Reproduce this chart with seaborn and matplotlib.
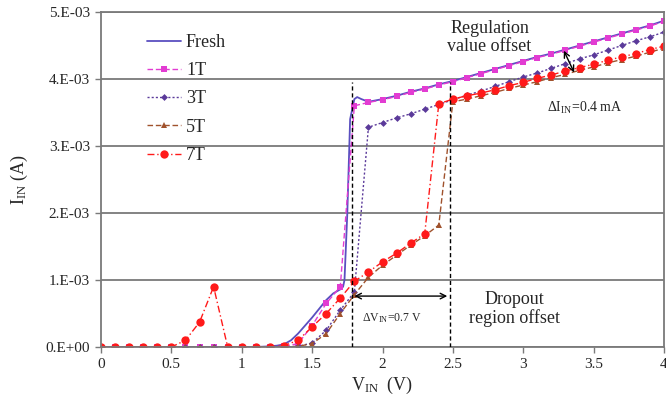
import numpy as np
import pandas as pd
import matplotlib
matplotlib.use("Agg")
import matplotlib.pyplot as plt
import seaborn as sns

# ---------------- data (currents in mA, converted to A when plotted) ----------------
v_fresh = [0.0, 0.1, 0.2, 0.3, 0.4, 0.5, 0.6, 0.7, 0.8, 0.9, 1.0, 1.1, 1.2, 1.25, 1.3, 1.35,
           1.4, 1.5, 1.6, 1.65, 1.7, 1.72, 1.73, 1.75, 1.77, 1.8, 1.82, 1.85, 1.9,
           2.0, 2.1, 2.2, 2.3, 2.4, 2.5, 2.6, 2.7, 2.8, 2.9, 3.0, 3.1, 3.2, 3.3, 3.4,
           3.5, 3.6, 3.7, 3.8, 3.9, 4.0]
i_fresh = [0, 0, 0, 0, 0, 0, 0, 0, 0, 0, 0, 0, 0.01, 0.02, 0.04, 0.1,
           0.2, 0.44, 0.7, 0.8, 0.86, 0.9, 1.0, 2.0, 3.4, 3.7, 3.73, 3.7, 3.66,
           3.70, 3.75, 3.81, 3.86, 3.92, 3.97, 4.03, 4.09, 4.15, 4.21, 4.27, 4.33, 4.38, 4.44, 4.50,
           4.56, 4.62, 4.68, 4.74, 4.80, 4.87]

v_step = [0.0, 0.1, 0.2, 0.3, 0.4, 0.5, 0.6, 0.7, 0.8, 0.9, 1.0, 1.1, 1.2, 1.3, 1.4,
          1.5, 1.6, 1.7, 1.8, 1.9, 2.0, 2.1, 2.2, 2.3, 2.4, 2.5, 2.6, 2.7, 2.8, 2.9,
          3.0, 3.1, 3.2, 3.3, 3.4, 3.5, 3.6, 3.7, 3.8, 3.9, 4.0]
i_1t = [0, 0, 0, 0, 0, 0, 0, 0, 0, 0, 0, 0, 0, 0.01, 0.05,
        0.32, 0.65, 0.9, 3.6, 3.65, 3.69, 3.74, 3.80, 3.85, 3.91, 3.96, 4.02, 4.08, 4.14, 4.20,
        4.26, 4.32, 4.37, 4.43, 4.49, 4.55, 4.61, 4.67, 4.73, 4.79, 4.86]
i_3t = [0, 0, 0, 0, 0, 0, 0, 0, 0, 0, 0, 0, 0, 0, 0.01,
        0.06, 0.25, 0.55, 0.82, 3.28, 3.35, 3.42, 3.48, 3.55, 3.62, 3.69, 3.76, 3.82, 3.89, 3.96,
        4.03, 4.09, 4.16, 4.23, 4.30, 4.36, 4.43, 4.50, 4.57, 4.63, 4.70]
i_5t = [0, 0, 0, 0, 0, 0, 0, 0, 0, 0, 0, 0, 0, 0, 0.01,
        0.05, 0.2, 0.5, 0.78, 1.04, 1.22, 1.37, 1.52, 1.66, 1.82, 3.66, 3.70, 3.75, 3.80, 3.86,
        3.91, 3.96, 4.02, 4.07, 4.13, 4.18, 4.24, 4.29, 4.34, 4.40, 4.46]
i_7t = [0, 0, 0, 0, 0, 0, 0.1, 0.37, 0.9, 0, 0, 0, 0, 0.02, 0.1,
        0.3, 0.5, 0.73, 0.98, 1.12, 1.27, 1.4, 1.55, 1.69, 3.63, 3.70, 3.75, 3.79, 3.84, 3.90,
        3.95, 4.01, 4.06, 4.12, 4.17, 4.22, 4.28, 4.33, 4.38, 4.44, 4.49]

series_names = ["Fresh", "1T", "3T", "5T", "7T"]
y_ticks = [0, 1e-3, 2e-3, 3e-3, 4e-3, 5e-3]
y_tick_labels = ["0.E+00", "1.E-03", "2.E-03", "3.E-03", "4.E-03", "5.E-03"]
x_ticks = [0, 0.5, 1, 1.5, 2, 2.5, 3, 3.5, 4]
x_tick_labels = ["0", "0.5", "1", "1.5", "2", "2.5", "3", "3.5", "4"]
dropout_lines = [1.78, 2.48]

# ---------------- style ----------------
sns.set_style("white")
plt.rcParams["font.family"] = ["Liberation Serif", "DejaVu Serif"]
plt.rcParams["mathtext.fontset"] = "custom"
plt.rcParams["mathtext.rm"] = "Liberation Serif"
plt.rcParams["mathtext.it"] = "Liberation Serif:italic"

fig = plt.figure(figsize=(6.66, 4.01), dpi=100)
ax = fig.add_axes([101 / 666, 1 - 347 / 401, 563 / 666, 335 / 401])

styles = {
    "Fresh": dict(color="#5A4FC0", linestyle="-", marker=None, lw=1.3),
    "1T": dict(color="#E23CD2", linestyle=(0, (4, 2)), marker="s", ms=4, lw=1.0),
    "3T": dict(color="#5B3A9A", linestyle=(0, (1.5, 1.5)), marker="D", ms=3.5, lw=1.0),
    "5T": dict(color="#A0522D", linestyle=(0, (4, 2)), marker="^", ms=5, lw=1.0),
    "7T": dict(color="#FF1A1A", linestyle=(0, (5, 2, 1, 2)), marker="o", ms=6, lw=1.0),
}
data = {
    "Fresh": (v_fresh, i_fresh),
    "1T": (v_step, i_1t),
    "3T": (v_step, i_3t),
    "5T": (v_step, i_5t),
    "7T": (v_step, i_7t),
}

for name in series_names:
    vx, iy = data[name]
    df = pd.DataFrame({"V": vx, "I": np.array(iy) * 1e-3})
    st = styles[name]
    kw = dict(color=st["color"], linestyle=st["linestyle"], linewidth=st["lw"], label=name)
    if st["marker"]:
        kw.update(marker=st["marker"], markersize=st["ms"], markeredgewidth=0,
                  markerfacecolor=st["color"])
    sns.lineplot(data=df, x="V", y="I", ax=ax, sort=False, estimator=None, **kw)

# grid & frame
grid_col = "#7A7A7A"
for yt in y_ticks:
    ax.axhline(yt, color=grid_col, lw=1.3, zorder=0)
for s in ax.spines.values():
    s.set_color(grid_col)
    s.set_linewidth(1.3)

ax.set_xlim(0, 4)
ax.set_ylim(0, 5e-3)
ax.set_xticks(x_ticks)
ax.set_xticklabels(x_tick_labels)
ax.set_yticks(y_ticks)
ax.set_yticklabels(y_tick_labels)
ax.tick_params(axis="both", direction="out", length=4, width=1, color=grid_col,
               labelsize=11, pad=4, left=True, bottom=True)

ax.set_xlabel(r"V$_{\mathrm{IN}}$  (V)", fontsize=13, labelpad=3)
ax.set_ylabel(r"I$_{\mathrm{IN}}$ (A)", fontsize=13, labelpad=11)

# dropout markers
for xv in dropout_lines:
    ax.plot([xv, xv], [0, 3.95e-3], color="black", lw=1.0, linestyle=(0, (3, 2)), zorder=5)
ax.annotate("", xy=(dropout_lines[0], 0.76e-3), xytext=(dropout_lines[1], 0.76e-3),
            arrowprops=dict(arrowstyle="<->", color="black", lw=1.0))
ax.text(2.07, 0.43e-3, r"ΔV$_{\mathrm{IN}}$=0.7 V", fontsize=8.5, ha="center", va="center")
ax.text(2.94, 0.57e-3, "Dropout\nregion offset", fontsize=13, ha="center", va="center",
        linespacing=1.05)

# regulation offset
ax.annotate("", xy=(3.28, 4.46e-3), xytext=(3.37, 4.06e-3),
            arrowprops=dict(arrowstyle="<->", color="black", lw=1.0))
ax.text(2.76, 4.62e-3, "Regulation\nvalue offset", fontsize=13, ha="center", va="center",
        linespacing=1.05)
ax.text(3.44, 3.57e-3, r"ΔI$_{\mathrm{IN}}$=0.4 mA", fontsize=10, ha="center", va="center")

leg = ax.legend(loc="upper left", bbox_to_anchor=(0.082, 0.934), frameon=False,
                fontsize=13, handlelength=1.9, handletextpad=0.25, labelspacing=0.62,
                borderpad=0, borderaxespad=0)

fig.savefig("out.png", dpi=100, facecolor="white")
